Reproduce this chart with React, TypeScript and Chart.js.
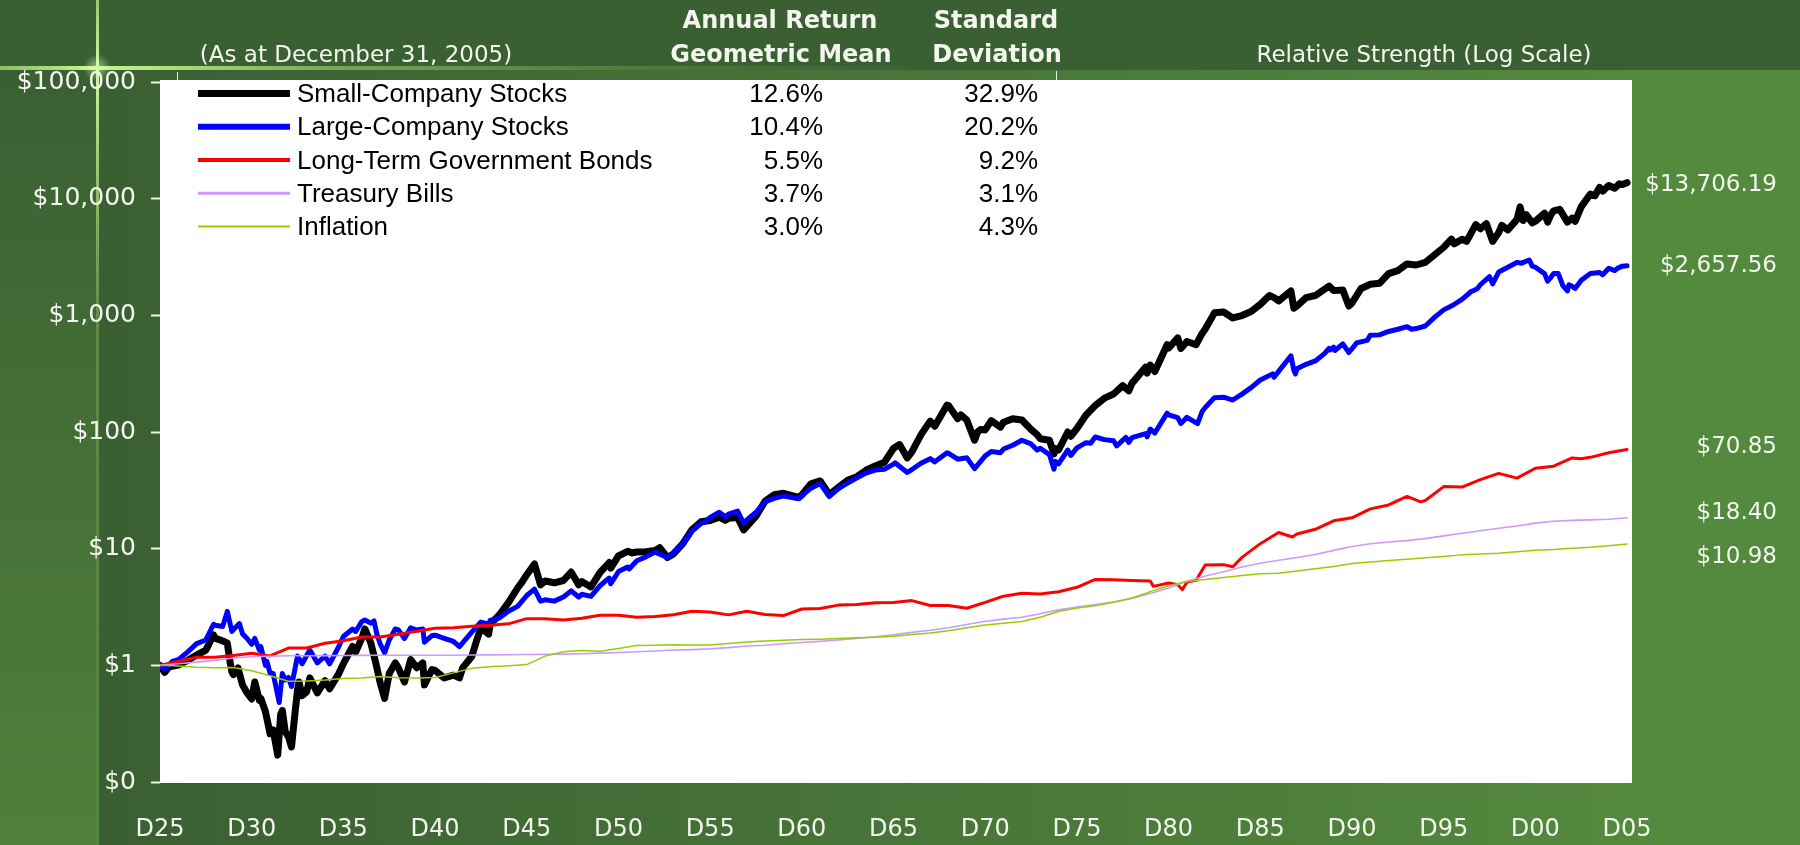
import React, { useEffect, useRef } from "react";
import { Chart, registerables } from "chart.js";

Chart.register(...registerables);

// ---------- categories / ticks ----------
const YEARS: number[] = Array.from({ length: 81 }, (_, i) => 1925 + i);
const X_TICKS = [1925, 1930, 1935, 1940, 1945, 1950, 1955, 1960, 1965, 1970, 1975, 1980, 1985, 1990, 1995, 2000, 2005];
const X_TICK_LABELS = ["D25", "D30", "D35", "D40", "D45", "D50", "D55", "D60", "D65", "D70", "D75", "D80", "D85", "D90", "D95", "D00", "D05"];
const Y_TICKS = [0.1, 1, 10, 100, 1000, 10000, 100000];
const Y_TICK_LABELS = ["$0", "$1", "$10", "$100", "$1,000", "$10,000", "$100,000"];

// ---------- series names & table ----------
const SERIES_NAMES = ["Small-Company Stocks", "Large-Company Stocks", "Long-Term Government Bonds", "Treasury Bills", "Inflation"];
const GEO_MEAN = ["12.6%", "10.4%", "5.5%", "3.7%", "3.0%"];
const STD_DEV = ["32.9%", "20.2%", "9.2%", "3.1%", "4.3%"];
const END_LABELS = ["$13,706.19", "$2,657.56", "$70.85", "$18.40", "$10.98"];

// ---------- year-end index values (Dec 1925 = $1) ----------
const SMALL_ANNUAL = [
  1.0, 1.003, 1.224, 1.71, 0.832, 0.515, 0.259, 0.245, 0.594, 0.738,
  1.035, 1.705, 0.716, 0.951, 0.954, 0.905, 0.824, 1.19, 2.242, 3.446,
  5.983, 5.287, 5.335, 5.223, 6.254, 8.677, 9.355, 9.638, 9.013, 14.473,
  17.431, 18.177, 15.529, 25.605, 29.804, 28.823, 38.072, 33.542, 41.448, 51.197,
  72.571, 67.484, 123.88, 168.44, 126.24, 104.24, 121.43, 126.81, 87.62, 70.14,
  107.19, 168.69, 211.51, 261.13, 374.61, 524.01, 596.75, 763.9, 1066.9, 995.77,
  1241.3, 1326.4, 1203.0, 1478.1, 1628.6, 1277.5, 1847.6, 2279.0, 2757.2, 2842.9,
  3822.6, 4496.1, 5520.4, 5116.8, 6641.1, 6402.7, 7860.6, 6816.7, 10954, 12969,
  13706.19,
];
const SMALL_INTRA: [number, number][] = [
  [1925.25, 0.87], [1925.5, 0.97], [1926.5, 1.1], [1927.5, 1.35], [1927.92, 1.82], [1928.5, 1.6], [1928.67, 1.55],
  [1928.83, 1.05], [1928.92, 0.88], [1929.25, 0.95], [1929.5, 0.68], [1929.75, 0.58], [1930.17, 0.72], [1930.42, 0.5],
  [1930.5, 0.52], [1930.75, 0.4], [1930.92, 0.3], [1931.17, 0.28], [1931.42, 0.17], [1931.58, 0.38], [1931.67, 0.41],
  [1931.83, 0.27], [1932.17, 0.2], [1932.33, 0.35], [1932.5, 0.62], [1932.58, 0.72], [1932.75, 0.55], [1933.17, 0.78],
  [1933.58, 0.58], [1934.25, 0.63], [1934.75, 0.85], [1935.5, 1.45], [1935.67, 1.3], [1936.17, 2.05], [1936.5, 1.55],
  [1936.83, 0.95], [1937.25, 0.52], [1937.5, 0.85], [1937.83, 1.05], [1938.33, 0.72], [1938.67, 1.12], [1939.33, 1.05],
  [1939.42, 0.68], [1939.83, 0.92], [1940.5, 0.78], [1941.33, 0.78], [1941.5, 0.95], [1942.25, 1.6], [1942.5, 2.1],
  [1942.92, 1.85], [1943.5, 2.7], [1944.5, 4.6], [1944.75, 5.2], [1945.42, 7.4], [1945.75, 4.9], [1946.5, 5.1],
  [1947.42, 6.3], [1947.83, 4.9], [1948.5, 4.7], [1949.5, 7.6], [1949.58, 6.8], [1950.5, 9.5], [1950.75, 9.2],
  [1951.5, 9.4], [1952.25, 10.2], [1952.67, 8.4], [1953.5, 11.0], [1954.5, 17.0], [1955.5, 18.6], [1955.83, 17.5],
  [1956.5, 18.5], [1956.83, 14.5], [1957.5, 19.0], [1958.5, 29.0], [1959.83, 27.5], [1960.5, 36.0], [1961.5, 29.0],
  [1962.5, 38.5], [1963.5, 47.0], [1964.5, 55.0], [1965.33, 78.0], [1965.75, 60.0], [1966.5, 95.0], [1967.25, 112.0],
  [1967.92, 170.0], [1968.5, 130.0], [1968.67, 140.0], [1969.42, 85.0], [1969.58, 100.0], [1969.75, 105.0],
  [1970.33, 125.0], [1970.83, 110.0], [1971.5, 130.0], [1972.5, 105.0], [1972.83, 95.0], [1973.5, 85.0],
  [1973.75, 65.0], [1973.83, 72.0], [1974.5, 100.0], [1974.67, 92.0], [1975.5, 140.0], [1976.5, 195.0],
  [1977.5, 250.0], [1977.83, 225.0], [1978.75, 360.0], [1978.83, 320.0], [1979.25, 330.0], [1979.92, 560.0],
  [1980.5, 640.0], [1980.67, 520.0], [1981.5, 560.0], [1981.83, 700.0], [1982.5, 1050.0], [1983.5, 950.0],
  [1984.5, 1080.0], [1985.5, 1480.0], [1985.75, 1420.0], [1986.67, 1620.0], [1986.83, 1150.0], [1987.5, 1420.0],
  [1988.75, 1780.0], [1989.5, 1650.0], [1989.83, 1200.0], [1990.5, 1700.0], [1991.5, 1880.0], [1992.5, 2420.0],
  [1993.5, 2700.0], [1994.5, 3300.0], [1995.42, 4500.0], [1995.58, 4100.0], [1996.25, 4300.0], [1996.75, 6000.0],
  [1997.33, 6100.0], [1997.67, 4300.0], [1998.17, 5900.0], [1998.5, 5400.0], [1999.17, 8500.0], [1999.33, 6500.0],
  [1999.5, 7300.0], [1999.83, 6200.0], [2000.5, 7500.0], [2000.67, 6300.0], [2000.83, 7200.0], [2001.33, 8100.0],
  [2001.75, 6300.0], [2002.17, 6400.0], [2002.5, 8500.0], [2003.25, 10600.0], [2003.5, 12500.0], [2003.67, 11600.0],
  [2004.33, 12300.0], [2004.58, 13400.0], [2004.75, 13200.0],
];

const LARGE_ANNUAL = [
  1.0, 1.116, 1.535, 2.204, 2.018, 1.516, 0.859, 0.789, 1.214, 1.197,
  1.767, 2.367, 1.538, 2.016, 2.008, 1.812, 1.602, 1.928, 2.427, 2.906,
  3.965, 3.645, 3.853, 4.065, 4.829, 6.36, 7.888, 9.336, 9.244, 14.108,
  18.561, 19.778, 17.646, 25.298, 28.322, 28.455, 36.106, 32.954, 40.469, 47.139,
  53.008, 47.674, 59.104, 65.642, 60.059, 62.465, 71.406, 84.956, 72.5, 53.311,
  73.144, 90.584, 84.077, 89.592, 106.11, 140.51, 133.62, 162.22, 198.75, 211.2,
  279.12, 330.67, 347.97, 406.46, 534.46, 517.5, 675.59, 727.41, 800.08, 810.54,
  1113.9, 1370.9, 1828.3, 2350.9, 2845.6, 2586.5, 2279.1, 1775.3, 2284.8, 2533.4,
  2657.56,
];
const LARGE_INTRA: [number, number][] = [
  [1925.25, 0.92], [1925.67, 1.08], [1926.5, 1.3], [1927.5, 1.65], [1927.92, 2.25], [1928.42, 2.15], [1928.67, 2.9],
  [1928.83, 2.25], [1928.92, 1.95], [1929.33, 2.28], [1929.5, 1.86], [1929.75, 1.7], [1930.17, 1.7], [1930.42, 1.35],
  [1930.5, 1.45], [1930.75, 1.0], [1930.83, 1.08], [1931.17, 0.85], [1931.5, 0.48], [1931.67, 0.85], [1931.83, 0.75],
  [1932.17, 0.66], [1932.5, 1.2], [1932.75, 1.03], [1933.17, 1.35], [1933.58, 1.05], [1934.25, 1.03], [1934.75, 1.45],
  [1935.5, 2.05], [1935.67, 1.95], [1936.17, 2.45], [1936.5, 2.3], [1936.67, 2.4], [1936.83, 1.85], [1937.25, 1.28],
  [1937.5, 1.65], [1937.83, 2.05], [1938.33, 1.7], [1938.67, 2.1], [1939.33, 2.05], [1939.42, 1.58], [1939.83, 1.8],
  [1940.5, 1.7], [1941.33, 1.45], [1942.5, 2.35], [1942.92, 2.25], [1943.5, 2.55], [1944.5, 3.2], [1945.42, 4.5],
  [1945.75, 3.55], [1946.5, 3.55], [1947.42, 4.35], [1947.83, 3.85], [1948.5, 3.9], [1949.5, 5.6], [1949.58, 5.0],
  [1950.5, 6.95], [1950.58, 6.7], [1951.5, 8.5], [1952.67, 8.4], [1953.5, 11.0], [1954.5, 16.5], [1954.75, 17.0],
  [1955.5, 20.5], [1955.83, 18.8], [1956.5, 21.0], [1956.83, 16.5], [1957.5, 20.5], [1958.5, 27.0], [1959.83, 26.8],
  [1960.5, 33.0], [1961.5, 28.0], [1962.5, 36.5], [1963.5, 44.5], [1964.5, 48.0], [1965.08, 54.5], [1965.75, 45.0],
  [1966.5, 54.0], [1967.25, 55.5], [1967.92, 66.5], [1968.5, 58.5], [1969.42, 48.5], [1969.75, 56.0], [1970.33, 68.0],
  [1970.83, 66.5], [1971.5, 77.0], [1972.5, 79.0], [1972.83, 70.0], [1973.5, 64.0], [1973.75, 48.0], [1973.83, 56.0],
  [1974.5, 70.0], [1974.67, 63.0], [1975.5, 81.0], [1975.75, 80.0], [1976.5, 86.0], [1977.17, 76.0], [1977.67, 90.0],
  [1977.83, 81.5], [1978.75, 97.0], [1978.83, 91.0], [1979.25, 98.0], [1979.92, 145.0], [1980.5, 133.0],
  [1980.67, 118.0], [1981.58, 118.0], [1981.83, 150.0], [1982.5, 197.0], [1983.5, 188.0], [1984.5, 240.0],
  [1985.67, 315.0], [1985.75, 295.0], [1986.67, 450.0], [1986.83, 338.0], [1986.92, 315.0], [1987.5, 380.0],
  [1988.5, 470.0], [1988.75, 520.0], [1988.83, 505.0], [1989.08, 500.0], [1989.5, 570.0], [1989.83, 480.0],
  [1990.25, 580.0], [1990.83, 610.0], [1991.5, 680.0], [1992.5, 760.0], [1993.25, 760.0], [1993.5, 770.0],
  [1994.5, 960.0], [1995.5, 1220.0], [1996.5, 1600.0], [1996.67, 1640.0], [1996.83, 1690.0], [1997.5, 2150.0],
  [1997.67, 1860.0], [1998.5, 2580.0], [1999.25, 2800.0], [1999.67, 2980.0], [1999.83, 2640.0], [2000.5, 2280.0],
  [2000.67, 1960.0], [2000.83, 2100.0], [2001.25, 2280.0], [2001.5, 1800.0], [2001.75, 1620.0], [2001.83, 1830.0],
  [2002.17, 1700.0], [2002.5, 2000.0], [2003.5, 2330.0], [2003.67, 2230.0], [2004.33, 2420.0], [2004.5, 2540.0],
  [2004.75, 2640.0],
];

const BONDS_ANNUAL = [
  1.0, 1.078, 1.174, 1.175, 1.215, 1.272, 1.204, 1.407, 1.406, 1.546,
  1.624, 1.746, 1.75, 1.847, 1.957, 2.076, 2.095, 2.162, 2.207, 2.269,
  2.513, 2.511, 2.445, 2.528, 2.691, 2.69, 2.585, 2.616, 2.711, 2.906,
  2.868, 2.708, 2.905, 2.732, 2.67, 3.039, 3.069, 3.282, 3.322, 3.438,
  3.463, 3.589, 3.259, 3.251, 3.086, 3.46, 3.917, 4.14, 4.094, 4.272,
  4.665, 5.447, 5.41, 5.346, 5.28, 5.071, 5.166, 7.251, 7.298, 8.427,
  11.037, 13.745, 13.372, 14.665, 17.322, 18.392, 21.942, 23.709, 28.034, 25.856,
  34.044, 33.727, 39.074, 44.178, 40.218, 48.856, 50.883, 59.891, 60.647, 66.378,
  70.853,
];
const BONDS_INTRA: [number, number][] = [
  [1979.17, 4.75], [1980.5, 4.9], [1980.75, 4.45], [1981.5, 5.35], [1983.5, 7.0], [1986.75, 12.6], [1993.75, 25.2], [2002.5, 59.0],
];

const BILLS_ANNUAL = [
  1.0, 1.033, 1.065, 1.103, 1.155, 1.183, 1.196, 1.207, 1.21, 1.212,
  1.214, 1.216, 1.22, 1.22, 1.221, 1.221, 1.221, 1.225, 1.229, 1.233,
  1.237, 1.242, 1.248, 1.258, 1.272, 1.287, 1.306, 1.328, 1.352, 1.364,
  1.385, 1.419, 1.464, 1.486, 1.53, 1.571, 1.604, 1.648, 1.7, 1.76,
  1.829, 1.916, 1.997, 2.101, 2.239, 2.385, 2.49, 2.585, 2.764, 2.986,
  3.159, 3.319, 3.489, 3.74, 4.128, 4.592, 5.267, 5.822, 6.335, 6.959,
  7.496, 7.958, 8.393, 8.926, 9.673, 10.429, 11.012, 11.398, 11.728, 12.186,
  12.868, 13.538, 14.25, 14.942, 15.641, 16.563, 17.197, 17.48, 17.659, 17.887,
  18.4,
];

const INFLATION_ANNUAL = [
  1.0, 0.985, 0.965, 0.955, 0.957, 0.899, 0.814, 0.73, 0.734, 0.749,
  0.771, 0.78, 0.804, 0.782, 0.778, 0.786, 0.862, 0.942, 0.972, 0.993,
  1.015, 1.199, 1.307, 1.343, 1.318, 1.395, 1.477, 1.49, 1.499, 1.492,
  1.497, 1.54, 1.587, 1.615, 1.639, 1.663, 1.674, 1.695, 1.723, 1.743,
  1.777, 1.836, 1.892, 1.981, 2.102, 2.218, 2.292, 2.371, 2.579, 2.894,
  3.097, 3.246, 3.466, 3.778, 4.281, 4.812, 5.242, 5.445, 5.652, 5.875,
  6.097, 6.166, 6.438, 6.722, 7.034, 7.464, 7.693, 7.916, 8.133, 8.351,
  8.563, 8.847, 8.998, 9.143, 9.389, 9.707, 9.857, 10.091, 10.281, 10.616,
  10.98,
];

const COLORS = ["#000000", "#0000ff", "#ff0000", "#cc99ff", "#99cc00"];
const LINE_WIDTHS = [7, 5, 3, 1.6, 1.5];
const LEGEND_WIDTHS = [7, 6, 4, 3, 2];
const END_NUDGE = [0, -2, -5, -7, 11];

function buildPoints(annual: number[], intra: [number, number][]) {
  const pts = annual.map((v, i) => ({ x: YEARS[i], y: v }));
  intra.forEach(([x, y]) => pts.push({ x, y }));
  pts.sort((a, b) => a.x - b.x);
  return pts;
}

const SERIES = [
  buildPoints(SMALL_ANNUAL, SMALL_INTRA),
  buildPoints(LARGE_ANNUAL, LARGE_INTRA),
  buildPoints(BONDS_ANNUAL, BONDS_INTRA),
  buildPoints(BILLS_ANNUAL, []),
  buildPoints(INFLATION_ANNUAL, []),
];

const TEXT = "#f3f6ee";
const SANS = "'DejaVu Sans', Verdana, sans-serif";

const decorPlugin = {
  id: "decor",
  beforeDraw(chart: any) {
    const { ctx, width, height, chartArea } = chart;
    ctx.save();
    // left strip: vertical gradient
    let g = ctx.createLinearGradient(0, 70, 0, height);
    g.addColorStop(0, "#3a5f32");
    g.addColorStop(1, "#4f803c");
    ctx.fillStyle = g;
    ctx.fillRect(0, 0, width, height);
    // chart region: horizontal gradient
    g = ctx.createLinearGradient(100, 0, 1660, 0);
    g.addColorStop(0, "#3a5f32");
    g.addColorStop(1, "#548a3e");
    ctx.fillStyle = g;
    ctx.fillRect(99, 70, width - 99, height - 70);
    // top band
    ctx.fillStyle = "#3a5f32";
    ctx.fillRect(0, 0, width, 68);
    // horizontal glow line
    g = ctx.createLinearGradient(0, 0, 950, 0);
    g.addColorStop(0, "rgba(150,205,105,0.85)");
    g.addColorStop(0.1, "rgba(200,250,150,1)");
    g.addColorStop(0.35, "rgba(140,195,95,0.75)");
    g.addColorStop(1, "rgba(90,140,65,0)");
    ctx.fillStyle = g;
    ctx.fillRect(0, 66, 950, 4);
    // vertical line
    g = ctx.createLinearGradient(0, 0, 0, height);
    g.addColorStop(0, "rgba(160,215,115,0.9)");
    g.addColorStop(0.08, "rgba(205,250,160,1)");
    g.addColorStop(0.4, "rgba(110,165,80,0.55)");
    g.addColorStop(1, "rgba(90,145,65,0.45)");
    ctx.fillStyle = g;
    ctx.fillRect(96, 0, 3, height);
    // glow at crossing
    const rg = ctx.createRadialGradient(97, 68, 0, 97, 68, 14);
    rg.addColorStop(0, "rgba(215,255,170,0.6)");
    rg.addColorStop(1, "rgba(215,255,170,0)");
    ctx.fillStyle = rg;
    ctx.fillRect(75, 50, 45, 36);
    // plot area
    ctx.fillStyle = "#ffffff";
    ctx.fillRect(chartArea.left, chartArea.top - 2, chartArea.right - chartArea.left, chartArea.bottom - chartArea.top + 3);
    ctx.restore();
  },
  afterDraw(chart: any) {
    const { ctx } = chart;
    const yScale = chart.scales.y;
    ctx.save();
    // small top ticks
    ctx.strokeStyle = "#e8efe0";
    ctx.lineWidth = 1;
    ctx.beginPath();
    ctx.moveTo(177.5, 72); ctx.lineTo(177.5, 80);
    ctx.moveTo(1056.5, 71); ctx.lineTo(1056.5, 80);
    ctx.stroke();
    // header
    ctx.fillStyle = TEXT;
    ctx.textBaseline = "alphabetic";
    ctx.textAlign = "center";
    ctx.font = `23px ${SANS}`;
    ctx.fillText("(As at December 31, 2005)", 356, 62);
    ctx.fillText("Relative Strength (Log Scale)", 1424, 62);
    ctx.font = `bold 24px ${SANS}`;
    ctx.fillText("Annual Return", 780, 28);
    ctx.fillText("Geometric Mean", 781, 62);
    ctx.fillText("Standard", 996, 28);
    ctx.fillText("Deviation", 997, 62);
    // legend table
    ctx.font = "26px 'Liberation Sans', Arial, sans-serif";
    SERIES_NAMES.forEach((name, i) => {
      const base = 102 + i * 33.25;
      const ly = base - 8.5;
      ctx.strokeStyle = COLORS[i];
      ctx.lineWidth = LEGEND_WIDTHS[i];
      ctx.lineCap = "butt";
      ctx.beginPath();
      ctx.moveTo(198, ly);
      ctx.lineTo(290, ly);
      ctx.stroke();
      ctx.fillStyle = "#000000";
      ctx.textAlign = "left";
      ctx.fillText(name, 297, base);
      ctx.textAlign = "right";
      ctx.fillText(GEO_MEAN[i], 823, base);
      ctx.fillText(STD_DEV[i], 1038, base);
    });
    // end value labels
    ctx.fillStyle = TEXT;
    ctx.textAlign = "right";
    ctx.font = `23px ${SANS}`;
    SERIES.forEach((pts, i) => {
      const last = pts[pts.length - 1];
      const py = yScale.getPixelForValue(last.y) + END_NUDGE[i];
      ctx.fillText(END_LABELS[i], 1777, py + 8.5);
    });
    ctx.restore();
  },
};

export default function App() {
  const canvasRef = useRef<HTMLCanvasElement | null>(null);

  useEffect(() => {
    document.body.style.margin = "0";
    const canvas = canvasRef.current;
    if (!canvas) return;
    const chart = new Chart(canvas, {
      type: "line",
      data: {
        datasets: SERIES.map((pts, i) => ({
          label: SERIES_NAMES[i],
          data: pts,
          borderColor: COLORS[i],
          backgroundColor: COLORS[i],
          borderWidth: LINE_WIDTHS[i],
          pointRadius: 0,
          tension: 0,
          fill: false,
          borderJoinStyle: "round" as const,
          borderCapStyle: "round" as const,
          order: 5 - i,
        })),
      },
      options: {
        animation: false,
        responsive: false,
        devicePixelRatio: 1,
        layout: { padding: { top: 82, right: 168, bottom: 0, left: 0 } },
        plugins: {
          legend: { display: false },
          tooltip: { enabled: false },
          title: { display: false },
        },
        scales: {
          x: {
            type: "linear",
            min: 1925,
            max: 2005.27,
            afterBuildTicks: (s: any) => {
              s.ticks = X_TICKS.map((v) => ({ value: v }));
            },
            afterFit: (s: any) => {
              s.height = 63;
            },
            grid: { display: false, drawTicks: false },
            border: { display: false },
            ticks: {
              autoSkip: false,
              maxRotation: 0,
              padding: 33,
              color: TEXT,
              font: { family: SANS, size: 24 },
              callback: (_v: any, i: number) => X_TICK_LABELS[i],
            },
          },
          y: {
            type: "logarithmic",
            min: 0.1,
            max: 100000,
            afterBuildTicks: (s: any) => {
              s.ticks = Y_TICKS.map((v) => ({ value: v }));
            },
            afterFit: (s: any) => {
              s.width = 160;
            },
            grid: {
              drawOnChartArea: false,
              drawTicks: true,
              tickLength: 9,
              tickWidth: 2,
              tickColor: "#eef3e8",
            },
            border: { display: false },
            ticks: {
              autoSkip: false,
              padding: 15,
              color: TEXT,
              font: { family: SANS, size: 25 },
              callback: (_v: any, i: number) => Y_TICK_LABELS[i],
            },
          },
        },
      },
      plugins: [decorPlugin],
    } as any);
    return () => chart.destroy();
  }, []);

  return (
    <div style={{ width: 1800, height: 845, overflow: "hidden" }}>
      <canvas ref={canvasRef} width={1800} height={845} style={{ display: "block", width: 1800, height: 845 }} />
    </div>
  );
}
